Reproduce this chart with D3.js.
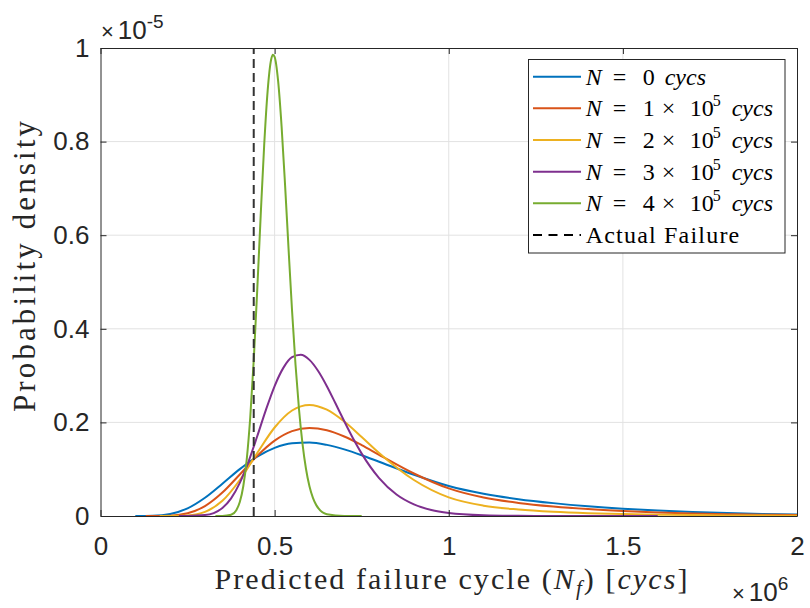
<!DOCTYPE html>
<html><head><meta charset="utf-8">
<script src="https://cdn.jsdelivr.net/npm/d3@7"></script>
<style>
html,body{margin:0;padding:0;background:#fff;}
svg{display:block;}
text{white-space:pre;}
</style></head><body>
<svg id="chart" width="810" height="608"></svg>
<script>
// ---------- data (x in 10^6 cycles, density in 10^-5) ----------
const xTicks = [0, 0.5, 1, 1.5, 2];
const xTickLabels = ["0", "0.5", "1", "1.5", "2"];
const yTicks = [0, 0.2, 0.4, 0.6, 0.8, 1];
const yTickLabels = ["0", "0.2", "0.4", "0.6", "0.8", "1"];

const xN0 = [0.10,0.15,0.20,0.25,0.30,0.35,0.40,0.45,0.50,0.55,0.60,0.65,0.70,0.75,0.80,0.90,1.00,1.10,1.20,1.30,1.40,1.50,1.60,1.70,1.80,1.90,2.00];
const yN0 = [0.0000,0.0005,0.0043,0.0164,0.0390,0.0690,0.1001,0.1269,0.1457,0.1555,0.1571,0.1520,0.1423,0.1298,0.1159,0.0882,0.0641,0.0475,0.0360,0.0275,0.0207,0.0155,0.0116,0.0086,0.0063,0.0045,0.0032];

const xN1 = [0.13,0.20,0.25,0.30,0.35,0.40,0.45,0.50,0.55,0.60,0.65,0.70,0.75,0.80,0.90,1.00,1.10,1.20,1.30,1.40,1.50,1.60,1.70,1.80,1.90,2.00];
const yN1 = [0.0000,0.0008,0.0058,0.0211,0.0500,0.0886,0.1285,0.1611,0.1814,0.1882,0.1833,0.1699,0.1514,0.1308,0.0908,0.0590,0.0395,0.0280,0.0203,0.0147,0.0107,0.0077,0.0055,0.0039,0.0027,0.0019];

const xN2 = [0.17,0.20,0.25,0.30,0.35,0.40,0.45,0.50,0.55,0.60,0.65,0.70,0.75,0.80,0.90,1.00,1.10,1.20,1.30,1.40,1.50,1.60,1.70,1.80,1.90,2.00];
const yN2 = [0.0000,0.0001,0.0012,0.0088,0.0324,0.0769,0.1346,0.1891,0.2254,0.2374,0.2272,0.2018,0.1688,0.1346,0.0769,0.0397,0.0220,0.0138,0.0090,0.0060,0.0041,0.0028,0.0019,0.0013,0.0009,0.0006];

const xN3 = [0.225,0.25,0.30,0.35,0.375,0.40,0.425,0.45,0.475,0.50,0.525,0.55,0.575,0.60,0.625,0.65,0.675,0.70,0.725,0.75,0.80,0.85,0.90,0.95,1.00,1.10,1.20,1.30,1.45,1.60];
const yN3 = [0.0000,0.0001,0.0019,0.0171,0.0377,0.0707,0.1161,0.1703,0.2267,0.2777,0.3165,0.3393,0.3445,0.3336,0.3098,0.2774,0.2403,0.2024,0.1661,0.1333,0.0810,0.0459,0.0248,0.0128,0.0064,0.0015,0.0003,0.0001,0.0000,0.0000];

const xN4 = [0.33,0.35,0.375,0.39,0.40,0.41,0.42,0.43,0.44,0.45,0.46,0.47,0.48,0.49,0.495,0.50,0.51,0.52,0.53,0.54,0.55,0.56,0.57,0.58,0.59,0.60,0.61,0.62,0.65,0.70,0.75];
const yN4 = [0.0000,0.0001,0.0027,0.0125,0.0298,0.0635,0.1217,0.2109,0.3329,0.4820,0.6423,0.7922,0.9090,0.9753,0.9858,0.9812,0.9297,0.8325,0.7071,0.5708,0.4391,0.3233,0.2281,0.1546,0.1009,0.0635,0.0387,0.0227,0.0039,0.0001,0.0000];

const actualFailure = 0.44;

const seriesMantissa = ["0", "1", "2", "3", "4"];
const seriesExponent = [null, "5", "5", "5", "5"];
const seriesColors = ["#0072BD", "#D95319", "#EDB120", "#7E2F8E", "#77AC30"];

// ---------- layout ----------
const plot = {left: 100.5, right: 797, top: 48, bottom: 516};
const ink = "#262626";
const sans = "'Liberation Sans', Arial, Helvetica, sans-serif";
const serif = "'Liberation Serif', 'Times New Roman', serif";

const x = d3.scaleLinear().domain([0, 2]).range([plot.left, plot.right]);
const y = d3.scaleLinear().domain([0, 1]).range([plot.bottom, plot.top]);
const svg = d3.select("#chart");

// grid
const grid = svg.append("g").attr("stroke", "#e2e2e2").attr("stroke-width", 1);
grid.selectAll(".gx").data(xTicks.slice(1, -1)).join("line")
  .attr("x1", d => x(d)).attr("x2", d => x(d)).attr("y1", plot.top).attr("y2", plot.bottom);
grid.selectAll(".gy").data(yTicks.slice(1, -1)).join("line")
  .attr("y1", d => y(d)).attr("y2", d => y(d)).attr("x1", plot.left).attr("x2", plot.right);

// curves
const series = [
  {xs: xN0, ys: yN0}, {xs: xN1, ys: yN1}, {xs: xN2, ys: yN2},
  {xs: xN3, ys: yN3}, {xs: xN4, ys: yN4}
];
const line = d3.line().x(d => x(d[0])).y(d => y(d[1])).curve(d3.curveMonotoneX);
series.forEach((s, i) => {
  svg.append("path")
    .datum(s.xs.map((v, k) => [v, s.ys[k]]))
    .attr("fill", "none").attr("stroke", seriesColors[i])
    .attr("stroke-width", 2).attr("stroke-linejoin", "round")
    .attr("d", line);
});

// actual failure
svg.append("line")
  .attr("x1", x(actualFailure)).attr("x2", x(actualFailure))
  .attr("y1", y(0)).attr("y2", y(1))
  .attr("stroke", "#333").attr("stroke-width", 2).attr("stroke-dasharray", "9,5");

// axes
function styleAxis(g) {
  g.select(".domain").attr("stroke", ink).attr("stroke-width", 1);
  g.selectAll(".tick line").attr("stroke", ink).attr("stroke-width", 1);
  g.selectAll(".tick text").attr("fill", ink).attr("font-family", sans).attr("font-size", 26);
}
svg.append("g").attr("transform", `translate(0,${plot.bottom})`)
  .call(d3.axisBottom(x).tickValues(xTicks).tickFormat((d, i) => xTickLabels[i])
    .tickSize(-6).tickSizeOuter(0).tickPadding(21)).call(styleAxis);
svg.append("g").attr("transform", `translate(${plot.left},0)`)
  .call(d3.axisLeft(y).tickValues(yTicks).tickFormat((d, i) => yTickLabels[i])
    .tickSize(-6).tickSizeOuter(0).tickPadding(11)).call(styleAxis);
svg.append("g").attr("transform", `translate(0,${plot.top})`)
  .call(d3.axisTop(x).tickValues(xTicks).tickFormat(() => "")
    .tickSize(-6).tickSizeOuter(0)).call(styleAxis);
svg.append("g").attr("transform", `translate(${plot.right},0)`)
  .call(d3.axisRight(y).tickValues(yTicks).tickFormat(() => "")
    .tickSize(-6).tickSizeOuter(0)).call(styleAxis);

// exponent labels
function expLabel(px, py, exp) {
  const t = svg.append("text").attr("x", px).attr("y", py)
    .attr("font-family", sans).attr("font-size", 26).attr("fill", ink);
  t.append("tspan").attr("font-size", 22).text("×");
  t.append("tspan").attr("dx", 4).text("10");
  t.append("tspan").attr("dy", -11).attr("font-size", 19).text(exp);
}
expLabel(101, 39, "-5");
expLabel(732, 601, "6");

// axis labels
function fitWidth(sel, target) {
  const n = sel.text().length;
  const len = sel.node().getComputedTextLength();
  sel.attr("letter-spacing", ((target - len) / n).toFixed(2) + "px");
}
const xl = svg.append("text").attr("x", 452).attr("y", 589)
  .attr("text-anchor", "middle").attr("font-family", serif).attr("font-size", 30).attr("fill", ink);
xl.append("tspan").text("Predicted failure cycle (");
xl.append("tspan").attr("font-style", "italic").text("N");
xl.append("tspan").attr("font-style", "italic").attr("font-size", 21).attr("dy", 6).text("f");
xl.append("tspan").attr("dy", -6).text(") [");
xl.append("tspan").attr("font-style", "italic").text("cycs");
xl.append("tspan").text("]");
fitWidth(xl, 475);

const yl = svg.append("text").attr("transform", "translate(35,265) rotate(-90)")
  .attr("text-anchor", "middle").attr("font-family", serif).attr("font-size", 31).attr("fill", ink)
  .text("Probability density");
fitWidth(yl, 294);

// legend
const lg = svg.append("g");
lg.append("rect").attr("x", 528.5).attr("y", 59.5).attr("width", 256.5).attr("height", 193.5)
  .attr("fill", "#fff").attr("stroke", ink).attr("stroke-width", 1);
const rowY = i => 76.7 + i * 31.65;
const tx = 585.7;
seriesMantissa.forEach((m, i) => {
  const cy = rowY(i);
  lg.append("line").attr("x1", 533).attr("x2", 581).attr("y1", cy).attr("y2", cy)
    .attr("stroke", seriesColors[i]).attr("stroke-width", 2);
  const t = lg.append("text").attr("y", cy + 8).attr("font-family", serif)
    .attr("font-size", 24).attr("fill", "#000");
  t.append("tspan").attr("x", tx).attr("font-style", "italic").text("N");
  t.append("tspan").attr("x", tx + 27).text("=");
  t.append("tspan").attr("x", tx + 57).text(m);
  if (seriesExponent[i]) {
    t.append("tspan").attr("x", tx + 76).text("×");
    t.append("tspan").attr("x", tx + 104).text("10");
    t.append("tspan").attr("x", tx + 127).attr("dy", -10).attr("font-size", 16).text(seriesExponent[i]);
    t.append("tspan").attr("x", tx + 146).attr("dy", 10).attr("font-style", "italic").text("cycs");
  } else {
    t.append("tspan").attr("x", tx + 79).attr("font-style", "italic").text("cycs");
  }
});
{
  const cy = rowY(5);
  lg.append("line").attr("x1", 533).attr("x2", 581).attr("y1", cy).attr("y2", cy)
    .attr("stroke", "#000").attr("stroke-width", 2).attr("stroke-dasharray", "9,6.5");
  lg.append("text").attr("x", tx).attr("y", cy + 8).attr("font-family", serif)
    .attr("font-size", 24).attr("letter-spacing", "1.2px").attr("fill", "#000").text("Actual Failure");
}
</script>
</body></html>
